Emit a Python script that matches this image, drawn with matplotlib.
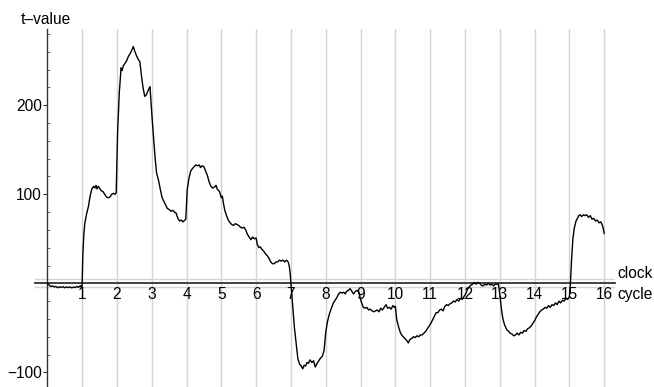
import matplotlib
matplotlib.use("Agg")
import matplotlib.pyplot as plt
from matplotlib.ticker import MultipleLocator, FixedLocator

plt.rcParams['font.family'] = ['Liberation Sans', 'DejaVu Sans']

# t-value trace over clock cycles
cycle = [
    0.0, 0.05, 0.1, 0.15, 0.2, 0.25, 0.3, 0.35, 0.4, 0.45, 0.5, 0.55, 0.6, 0.65, 0.7, 0.75, 0.8, 0.85, 0.9, 0.95, 0.98, 1.0,
    1.02, 1.05, 1.08, 1.13, 1.18, 1.23, 1.28, 1.33, 1.37, 1.4, 1.43, 1.46, 1.5, 1.55, 1.6, 1.65, 1.7, 1.75, 1.8, 1.85, 1.9, 1.95, 1.98,
    2.02, 2.07, 2.12, 2.15, 2.18, 2.23, 2.28, 2.33, 2.38, 2.43, 2.47, 2.52, 2.57, 2.62, 2.66, 2.7, 2.75, 2.8, 2.85, 2.9, 2.95,
    3.0, 3.05, 3.1, 3.14, 3.2, 3.25, 3.3, 3.35, 3.4, 3.45, 3.5, 3.55, 3.6, 3.65, 3.7, 3.75, 3.8, 3.85, 3.9, 3.95, 3.98,
    4.02, 4.07, 4.12, 4.17, 4.22, 4.27, 4.32, 4.37, 4.4, 4.45, 4.5, 4.55, 4.6, 4.65, 4.7, 4.75, 4.8, 4.85, 4.88, 4.95,
    5.0, 5.03, 5.06, 5.1, 5.15, 5.2, 5.25, 5.3, 5.35, 5.4, 5.45, 5.5, 5.55, 5.6, 5.65, 5.7, 5.75, 5.8, 5.85, 5.9, 5.95,
    6.0, 6.03, 6.08, 6.12, 6.17, 6.22, 6.27, 6.32, 6.37, 6.42, 6.47, 6.52, 6.57, 6.62, 6.67, 6.72, 6.77, 6.82, 6.87, 6.92, 6.95, 6.98,
    7.0, 7.05, 7.1, 7.15, 7.2, 7.25, 7.3, 7.34, 7.38, 7.42, 7.46, 7.5, 7.55, 7.6, 7.65, 7.7, 7.75, 7.8, 7.85, 7.9, 7.95,
    8.0, 8.05, 8.1, 8.17, 8.22, 8.27, 8.32, 8.37, 8.42, 8.47, 8.52, 8.56, 8.6, 8.65, 8.7, 8.75, 8.8, 8.85, 8.9, 8.95,
    9.0, 9.03, 9.08, 9.13, 9.18, 9.23, 9.28, 9.33, 9.38, 9.43, 9.48, 9.53, 9.58, 9.63, 9.68, 9.73, 9.78, 9.83, 9.88, 9.93, 9.97,
    10.0, 10.04, 10.1, 10.15, 10.2, 10.25, 10.3, 10.34, 10.37, 10.42, 10.47, 10.52, 10.57, 10.62, 10.67, 10.72, 10.77, 10.82, 10.87, 10.92, 10.97,
    11.02, 11.07, 11.12, 11.17, 11.22, 11.27, 11.32, 11.37, 11.42, 11.47, 11.52, 11.57, 11.62, 11.67, 11.72, 11.77, 11.82, 11.87, 11.92, 11.97,
    12.02, 12.07, 12.12, 12.17, 12.22, 12.27, 12.32, 12.37, 12.42, 12.47, 12.52, 12.57, 12.62, 12.67, 12.72, 12.77, 12.82, 12.87, 12.92, 12.96,
    13.0, 13.05, 13.09, 13.14, 13.2, 13.25, 13.3, 13.35, 13.4, 13.45, 13.5, 13.55, 13.6, 13.65, 13.7, 13.75, 13.8, 13.85, 13.9, 13.95,
    14.0, 14.05, 14.1, 14.15, 14.2, 14.25, 14.3, 14.35, 14.4, 14.45, 14.5, 14.55, 14.6, 14.65, 14.7, 14.75, 14.8, 14.85, 14.9, 14.95,
    15.0, 15.03, 15.06, 15.1, 15.14, 15.19, 15.23, 15.27, 15.31, 15.35, 15.4, 15.45, 15.5, 15.55, 15.6, 15.65, 15.7, 15.75, 15.8, 15.85, 15.9, 15.94, 15.97,
    16.0,
]
t_value = [
    0, -2, -3.5, -3, -4, -3.5, -5, -4, -4.5, -3.8, -5, -4.2, -4.8, -4, -5.2, -4.3, -4.8, -3.5, -4.5, -2.5, -5, -3,
    30, 55, 68, 78, 86, 98, 106, 109, 107, 110, 106, 109, 107, 104, 103, 100, 97, 96, 97, 100, 101, 100, 102,
    170, 215, 242, 239, 244, 247, 250, 255, 258, 262, 266, 260, 255, 251, 249, 235, 220, 210, 212, 217, 221,
    192, 165, 140, 124, 115, 105, 96, 92, 88, 84, 83, 81, 82, 80, 79, 73, 70, 71, 69, 71, 72,
    105, 118, 126, 129, 131, 133, 132, 133, 130, 132, 131, 126, 121, 114, 109, 107, 108, 110, 106, 103,
    96, 98, 90, 82, 76, 71, 68, 66, 65, 67, 66, 65, 63, 62, 63, 60, 55, 52, 49, 52, 50,
    51, 44, 40, 41, 38, 36, 33, 31, 28, 24, 22, 22, 24, 24, 26, 25, 26, 24, 26, 24, 20, 10,
    0, -25, -50, -68, -85, -91, -93, -96, -92, -93, -89, -90, -86, -89, -87, -94, -90, -87, -84, -82, -76,
    -55, -43, -35, -27, -22, -19, -16, -12, -10, -11, -10, -12, -9, -8, -6, -9, -12, -9, -8, -10,
    -18, -22, -27, -28, -27, -30, -29, -31, -32, -31, -30, -32, -28, -30, -27, -24, -28, -27, -29, -25, -27,
    -26, -41, -50, -56, -59, -61, -63, -65, -67, -63, -62, -60, -61, -59, -60, -58, -58, -56, -54, -51, -48,
    -45, -41, -37, -33, -33, -30, -29, -31, -26, -24, -25, -23, -22, -20, -21, -18, -20, -17, -18, -15,
    -12, -7, -4, -2, -1, 1, -1, 1, 0, -2, -3, -1, -2, 0, -2, -1, -3, -1, -1, -1,
    -12, -30, -40, -47, -52, -54, -56, -57, -59, -58, -56, -58, -55, -56, -53, -54, -51, -50, -48, -45,
    -42, -38, -35, -32, -30, -29, -27, -28, -25, -27, -24, -25, -22, -24, -20, -22, -19, -20, -17, -18,
    -15, 0, 25, 50, 62, 70, 73, 76, 77, 75, 77, 76, 77, 74, 76, 72, 73, 70, 71, 68, 69, 66, 62,
    56,
]

x_ticks = list(range(1, 17))
y_ticks = [-100, 100, 200]
band = [-4.5, 4.5]

W, H = 654, 387
FS = 11.2
fig = plt.figure(figsize=(W / 100, H / 100), dpi=100)
ax = fig.add_axes([35 / W, 0.0, (615 - 35) / W, 1 - 29 / H])
ax.set_xlim(-0.353, 16.31)
ax.set_ylim(-116.5, 285.7)
ax.patch.set_alpha(0)

for xv in x_ticks:
    ax.axvline(xv, color='#d4d4d4', lw=1.0, zorder=1)
for yv in band:
    ax.axhline(yv, color='#d4d4d4', lw=1.0, zorder=1)

ax.plot(cycle, t_value, color='black', lw=1.0, zorder=3)

for side in ('top', 'right'):
    ax.spines[side].set_visible(False)
ax.spines['left'].set_position(('data', 0))
ax.spines['bottom'].set_position(('data', 0))
ax.spines['left'].set_color('#333333')
ax.spines['bottom'].set_color('#333333')
ax.spines['left'].set_linewidth(1.0)
ax.spines['bottom'].set_linewidth(1.3)
ax.spines['left'].set_zorder(2)
ax.spines['bottom'].set_zorder(2)

ax.xaxis.set_major_locator(FixedLocator(x_ticks))
ax.set_xticklabels([str(v) for v in x_ticks])
ax.tick_params(axis='x', length=0, pad=3, labelsize=FS)

ax.yaxis.set_major_locator(FixedLocator(y_ticks))
ax.set_yticklabels(['\u2212100', '100', '200'])
ax.yaxis.set_minor_locator(MultipleLocator(20))
ax.tick_params(axis='y', which='major', direction='out', length=3, width=0.8,
               color='#333333', pad=1, labelsize=FS)
ax.tick_params(axis='y', which='minor', direction='in', length=2.5, width=0.6,
               color='#555555')

fig.text(21 / W, 1 - 19 / H, 't\u2013value', fontsize=FS, va='center', ha='left')
fig.text(617 / W, 1 - 273 / H, 'clock', fontsize=FS, va='center', ha='left')
fig.text(617 / W, 1 - 295 / H, 'cycle', fontsize=FS, va='center', ha='left')

fig.savefig('out.png', dpi=100)
